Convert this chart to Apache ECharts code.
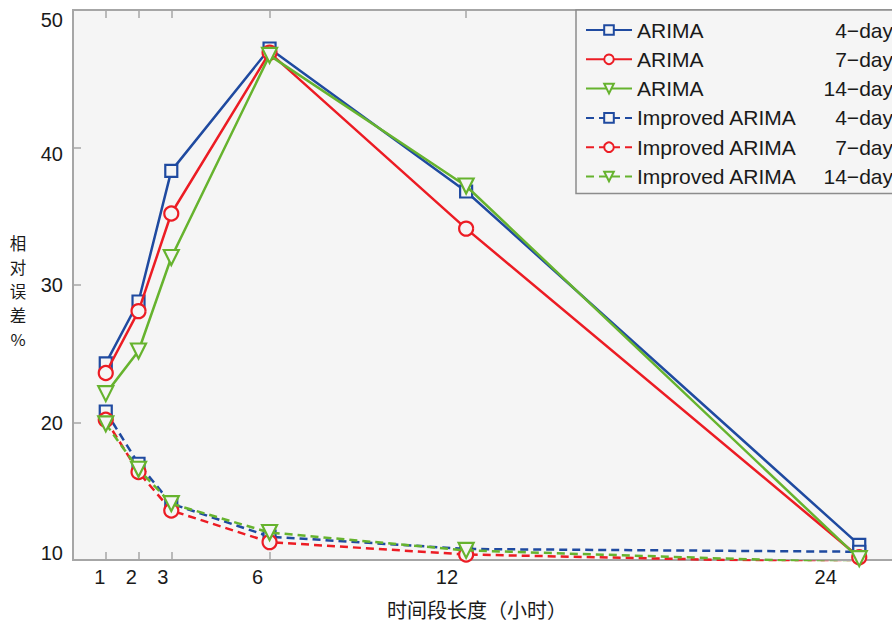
<!DOCTYPE html>
<html><head><meta charset="utf-8">
<script src="https://cdn.jsdelivr.net/npm/echarts@6/dist/echarts.min.js"></script>
<style>html,body{margin:0;padding:0;background:#fff}#c{width:892px;height:624px}</style>
</head><body><div id="c"></div>
<script>
const xTicks = [1, 2, 3, 6, 12, 24];
const yTicks = [10, 20, 30, 40, 50];
const xValues = [1, 2, 3, 6, 12, 24];
const arima4 = [24.3, 28.8, 38.3, 47.2, 36.8, 11.1];
const arima7 = [23.6, 28.1, 35.2, 46.9, 34.1, 10.2];
const arima14 = [22.1, 25.2, 32.0, 46.7, 37.2, 10.1];
const imp4 = [20.8, 17.0, 14.1, 11.7, 10.8, 10.6];
const imp7 = [20.2, 16.4, 13.6, 11.3, 10.4, 9.8];
const imp14 = [19.9, 16.6, 14.1, 12.0, 10.7, 9.8];
const seriesNames = ['ARIMA|4−day', 'ARIMA|7−day', 'ARIMA|14−day', 'Improved ARIMA|4−day', 'Improved ARIMA|7−day', 'Improved ARIMA|14−day'];
const xTitle = '时间段长度（小时）';
const yTitle = ['相', '对', '误', '差', '%'];

const BLUE = '#1f4aa0', RED = '#ec1c24', GREEN = '#66b32e', BG = '#f5f5f5', TXT = '#1a1a1a';
const FONT = '"Liberation Sans", Arial, Helvetica, sans-serif';
function pairs(ys) { return xValues.map((x, i) => [x, ys[i]]); }
function mk(name, ys, color, symbol, size, dashed, z) {
  return {
    name: name, type: 'line', data: pairs(ys), z: z,
    symbol: symbol, symbolSize: size, symbolRotate: symbol === 'triangle' ? 180 : 0,
    lineStyle: { color: color, width: 2.5, type: dashed ? [8, 5] : 'solid' },
    itemStyle: { color: BG, borderColor: color, borderWidth: 2.2 },
    emphasis: { disabled: true }, clip: true, animation: false
  };
}
const rs = (extra) => Object.assign({ fontSize: 20, fontFamily: FONT, color: TXT }, extra || {});
const yTitleGraphics = yTitle.map((ch, i) => ({
  type: 'text', x: 18, y: 243 + i * 24,
  style: { text: ch, font: '16.5px "Noto Sans CJK SC"', fill: TXT, align: 'center', verticalAlign: 'middle' }
}));
const chart = echarts.init(document.getElementById('c'), null, { renderer: 'svg' });
chart.setOption({
  backgroundColor: '#fff',
  animation: false,
  grid: { left: 73, top: 10, width: 827, height: 550, show: true, backgroundColor: BG, borderWidth: 0 },
  xAxis: [
    { type: 'value', min: 0, max: 25, position: 'bottom',
      axisLine: { lineStyle: { color: '#a6a6a6', width: 2 } },
      axisTick: { inside: true, length: 8, customValues: xTicks, lineStyle: { color: '#a6a6a6', width: 1.5 } },
      axisLabel: { show: false }, splitLine: { show: false } },
    { type: 'value', min: 0.153, max: 26.1, position: 'bottom', gridIndex: 0,
      axisLine: { show: false }, axisTick: { show: false }, splitLine: { show: false },
      axisLabel: { customValues: xTicks, margin: 7, fontSize: 20, color: TXT, fontFamily: FONT } },
    { type: 'value', min: 0, max: 25, position: 'top',
      axisLine: { lineStyle: { color: '#a6a6a6', width: 2 } },
      axisTick: { inside: true, length: 8, customValues: xTicks, lineStyle: { color: '#a6a6a6', width: 1.5 } },
      axisLabel: { show: false }, splitLine: { show: false } }
  ],
  yAxis: [
    { type: 'value', min: 10, max: 50, interval: 10, position: 'left',
      axisLine: { show: true, lineStyle: { color: '#a6a6a6', width: 2 } },
      axisTick: { show: true, inside: true, length: 8, lineStyle: { color: '#a6a6a6', width: 1.5 } },
      splitLine: { show: false },
      axisLabel: { margin: 10, fontSize: 20, color: TXT, fontFamily: FONT,
        formatter: function (v) { return v === 50 ? '{t|50}' : v === 10 ? '{b|10}' : v === 40 ? '{f|40}' : '{n|' + v + '}'; },
        rich: { t: rs({ padding: [20, 0, 0, 0] }), b: rs({ padding: [0, 0, 14, 0] }),
                f: rs({ padding: [12, 0, 0, 0] }), n: rs() } } },
    { type: 'value', min: 10, max: 50, interval: 10, position: 'right',
      axisLine: { show: true, lineStyle: { color: '#a6a6a6', width: 2 } },
      axisTick: { show: false }, axisLabel: { show: false }, splitLine: { show: false } }
  ],
  legend: {
    orient: 'vertical', left: 576, top: 10,
    backgroundColor: BG, borderColor: '#8c8c8c', borderWidth: 1.5,
    padding: [9, 6, 6, 9], itemWidth: 46, itemHeight: 12, itemGap: 7.3,
    selectedMode: false,
    data: seriesNames,
    formatter: function (n) { const p = n.split('|'); return '{n|' + p[0] + '}{d|' + p[1] + '}'; },
    textStyle: { fontSize: 21, lineHeight: 22, color: TXT, fontFamily: FONT,
      rich: { n: rs({ width: 160, fontSize: 21, lineHeight: 22 }), d: rs({ width: 96, align: 'right', fontSize: 21, lineHeight: 22 }) } },
    itemTextGap: 4
  },
  graphic: [
    { type: 'text', x: 387, y: 609, style: { text: xTitle, font: '20px "Noto Sans CJK SC"', fill: TXT, verticalAlign: 'middle' } }
  ].concat(yTitleGraphics),
  series: [
    mk(seriesNames[0], arima4, BLUE, 'rect', 12, false, 2),
    mk(seriesNames[1], arima7, RED, 'circle', 14, false, 3),
    mk(seriesNames[2], arima14, GREEN, 'triangle', 15, false, 4),
    mk(seriesNames[3], imp4, BLUE, 'rect', 12, true, 2),
    mk(seriesNames[4], imp7, RED, 'circle', 14, true, 3),
    mk(seriesNames[5], imp14, GREEN, 'triangle', 15, true, 4)
  ]
});
</script></body></html>
